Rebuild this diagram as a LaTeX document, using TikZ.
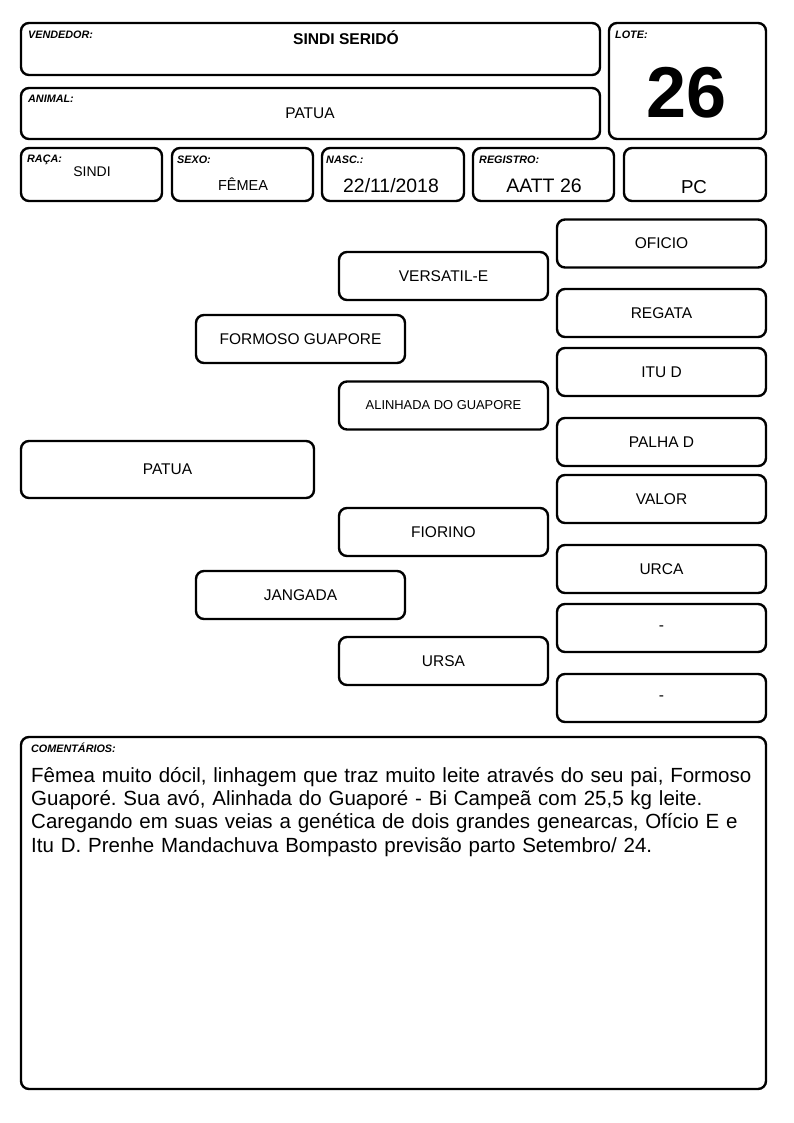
\documentclass[tikz,border=0pt]{standalone}
\usepackage{fontspec}
\setmainfont{Liberation Sans}
\usetikzlibrary{positioning}
\frenchspacing

\tikzset{
  fieldbox/.style={draw, line width=2.4pt, rounded corners=8pt, inner sep=0pt},
  pedbox/.style={fieldbox, minimum width=209pt, minimum height=48pt,
    font=\fontsize{15.5}{18}\selectfont},
  tag/.style={anchor=base west, inner sep=0pt,
    font=\fontsize{10.8}{12}\selectfont\bfseries\itshape},
  value/.style={inner sep=0pt, font=\fontsize{15.5}{18}\selectfont}
}

\begin{document}
\begin{tikzpicture}[x=1pt, y=-1pt]
  \useasboundingbox (0,0) rectangle (794,1123);

  % header fields
  \node[fieldbox, minimum width=579pt, minimum height=52pt] (vendedor) at (310.5,49) {};
  \node[fieldbox, minimum width=579pt, minimum height=51pt] (animal) at (310.5,113.5) {};
  \node[fieldbox, minimum width=157pt, minimum height=116pt] (lote) at (687.5,81) {};
  \node[fieldbox, minimum width=141pt, minimum height=53pt] (raca) at (91.5,174.5) {};
  \node[fieldbox, minimum width=141pt, minimum height=53pt] (sexo) at (242.5,174.5) {};
  \node[fieldbox, minimum width=142pt, minimum height=53pt] (nasc) at (393,174.5) {};
  \node[fieldbox, minimum width=141pt, minimum height=53pt] (registro) at (543.5,174.5) {};
  \node[fieldbox, minimum width=142pt, minimum height=53pt] (pc) at (695,174.5) {};

  \node[tag] (vendedortag) at (28,39) {VENDEDOR:};
  \node[tag] (animaltag) at (28,103) {ANIMAL:};
  \node[tag] (lotetag) at (615,39) {LOTE:};
  \node[tag] (racatag) at (27,163) {RAÇA:};
  \node[tag] (sexotag) at (177,164) {SEXO:};
  \node[tag] (nasctag) at (326,164) {NASC.:};
  \node[tag] (registrotag) at (479,164) {REGISTRO:};

  \node[value, font=\fontsize{15.6}{18}\selectfont\bfseries] (vendedorval) at (346,38) {SINDI SERIDÓ};
  \node[value] (animalval) at (310,113) {PATUA};
  \node[value, font=\fontsize{72}{80}\selectfont\bfseries] (loteval) at (687,93) {26};
  \node[value, font=\fontsize{14}{16}\selectfont] (racaval) at (92,172) {SINDI};
  \node[value, font=\fontsize{14.5}{16}\selectfont] (sexoval) at (243,184) {FÊMEA};
  \node[value, font=\fontsize{19.4}{22}\selectfont] (nascval) at (391,186) {22/11/2018};
  \node[value, font=\fontsize{19.5}{22}\selectfont] (registroval) at (544,186) {AATT 26};
  \node[value, font=\fontsize{18.7}{22}\selectfont] (pcval) at (694,187) {PC};

  % pedigree
  \node[pedbox, minimum width=293pt, minimum height=57pt] (patua) at (167.5,469.5) {PATUA};
  \node[pedbox] (formoso) at (300.5,339) {FORMOSO GUAPORE};
  \node[pedbox] (jangada) at (300.5,595) {JANGADA};
  \node[pedbox] (versatil) at (443.5,276) {VERSATIL-E};
  \node[pedbox, font=\fontsize{12.9}{15}\selectfont] (alinhada) at (443.5,405.5) {ALINHADA DO GUAPORE};
  \node[pedbox] (fiorino) at (443.5,532) {FIORINO};
  \node[pedbox] (ursa) at (443.5,661) {URSA};
  \node[pedbox] (oficio) at (661.5,243.5) {OFICIO};
  \node[pedbox] (regata) at (661.5,313) {REGATA};
  \node[pedbox] (itud) at (661.5,372) {ITU D};
  \node[pedbox] (palhad) at (661.5,442) {PALHA D};
  \node[pedbox] (valor) at (661.5,499) {VALOR};
  \node[pedbox] (urca) at (661.5,569) {URCA};
  \node[pedbox] (vazio1) at (661.5,628) {-};
  \node[pedbox] (vazio2) at (661.5,698) {-};

  % comments
  \node[fieldbox, minimum width=745pt, minimum height=352pt] (comentarios) at (393.5,913) {};
  \node[tag] (comentariostag) at (31,752) {COMENTÁRIOS:};
  \node[anchor=base west, inner sep=0pt, text width=740pt, align=left,
    font=\fontsize{20.5}{23.4}\selectfont] (comentariosval) at (31,782)
    {Fêmea muito dócil, linhagem que traz muito leite através do seu pai, Formoso\\
     Guaporé. Sua avó, Alinhada do Guaporé - Bi Campeã com 25,5 kg leite.\\
     Caregando em suas veias a genética de dois grandes genearcas, Ofício E e\\
     Itu D. Prenhe Mandachuva Bompasto previsão parto Setembro/ 24.};
\end{tikzpicture}
\end{document}
